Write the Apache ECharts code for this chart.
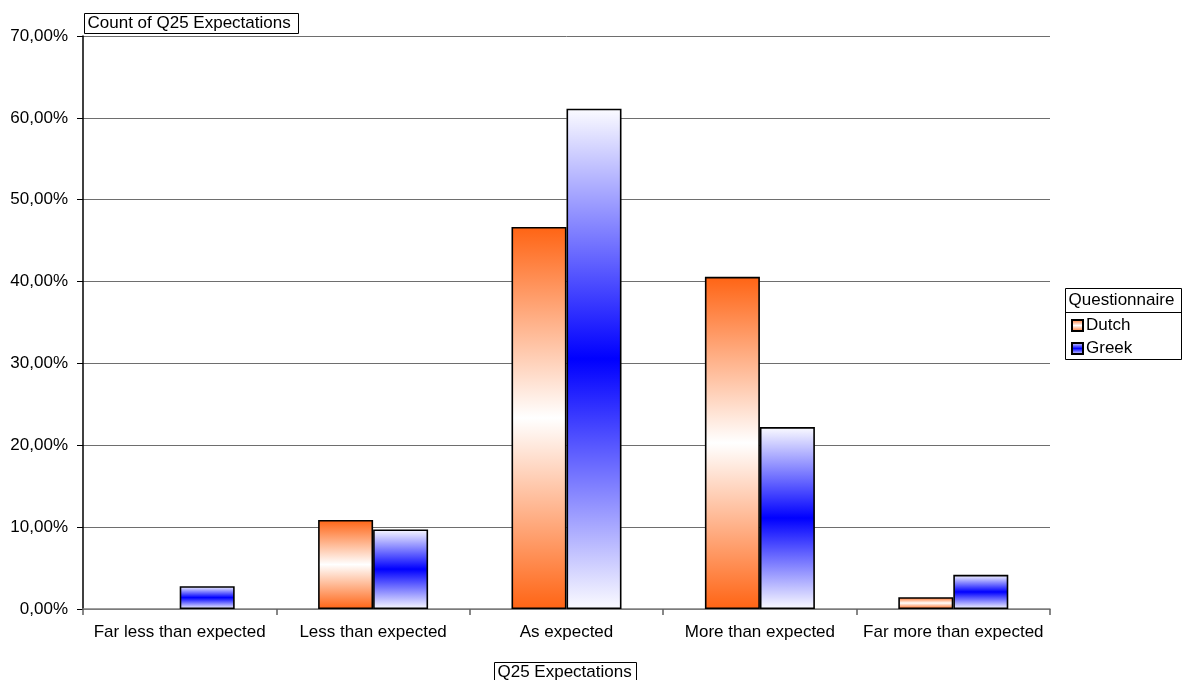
<!DOCTYPE html>
<html>
<head>
<meta charset="utf-8">
<script src="https://cdn.jsdelivr.net/npm/echarts@6/dist/echarts.min.js"></script>
<style>
  html, body { margin: 0; padding: 0; background: #ffffff; }
  #chart { width: 1186px; height: 680px; }
</style>
</head>
<body>
<div id="chart"></div>
<script>
// Share of answers per expectation level, by questionnaire (percent)
const categories = ['Far less than expected', 'Less than expected', 'As expected', 'More than expected', 'Far more than expected'];
const dutch = [0, 10.87, 46.67, 40.58, 1.45];
const greek = [2.78, 9.72, 61.11, 22.22, 4.17];
const yTicks = [0, 10, 20, 30, 40, 50, 60, 70];

const FONT = '"Liberation Sans", Arial, sans-serif';
const FS = 17;
const pct = v => v.toFixed(2).replace('.', ',') + '%';

const dutchFill = new echarts.graphic.LinearGradient(0, 0, 0, 1, [
  { offset: 0, color: '#ff6414' },
  { offset: 0.5, color: '#ffffff' },
  { offset: 1, color: '#ff6414' }
]);
const greekFill = new echarts.graphic.LinearGradient(0, 0, 0, 1, [
  { offset: 0, color: '#fbfbff' },
  { offset: 0.5, color: '#0000ff' },
  { offset: 1, color: '#fbfbff' }
]);

// a zero share gets no visible bar outline
const barData = arr => arr.map(v => v === 0 ? { value: v, itemStyle: { borderWidth: 0, opacity: 0 } } : v);

const chart = echarts.init(document.getElementById('chart'), null, { renderer: 'canvas' });

chart.setOption({
  backgroundColor: '#ffffff',
  animation: false,
  textStyle: { fontFamily: FONT },
  grid: { left: 83, right: 136, top: 36, bottom: 71, containLabel: false },
  xAxis: {
    type: 'category',
    data: categories,
    axisLine: { show: true, lineStyle: { color: '#808080', width: 1.5 } },
    axisTick: { show: true, alignWithLabel: false, length: 6, lineStyle: { color: '#606060', width: 1.5 } },
    axisLabel: { color: '#000000', fontSize: FS, fontFamily: FONT, margin: 15, interval: 0 }
  },
  yAxis: {
    type: 'value',
    min: yTicks[0],
    max: yTicks[yTicks.length - 1],
    interval: 10,
    axisLine: { show: true, lineStyle: { color: '#000000', width: 1.5 } },
    axisTick: { show: true, length: 6, inside: false, lineStyle: { color: '#000000', width: 1 } },
    splitLine: { show: true, lineStyle: { color: '#6e6e6e', width: 1 } },
    axisLabel: { color: '#000000', fontSize: FS, fontFamily: FONT, margin: 15, formatter: pct }
  },
  legend: {
    orient: 'vertical',
    left: 1066,
    top: 312,
    itemWidth: 11,
    itemHeight: 11,
    itemGap: 6,
    icon: 'rect',
    textStyle: { color: '#000000', fontSize: FS, fontFamily: FONT, padding: [0, 0, 0, -2] },
    data: ['Dutch', 'Greek'],
    selectedMode: false
  },
  series: [
    {
      name: 'Dutch',
      type: 'bar',
      data: barData(dutch),
      barWidth: 55,
      barGap: '0%',
      itemStyle: { color: dutchFill, borderColor: '#000000', borderWidth: 1.6 }
    },
    {
      name: 'Greek',
      type: 'bar',
      data: barData(greek),
      barWidth: 55,
      barGap: '0%',
      itemStyle: { color: greekFill, borderColor: '#000000', borderWidth: 1.6 }
    }
  ],
  graphic: [
    // chart title box
    {
      type: 'group', left: 84, top: 13,
      children: [
        { type: 'rect', shape: { x: 0, y: 0, width: 214, height: 20 }, style: { fill: '#ffffff', stroke: '#000000', lineWidth: 1 } },
        { type: 'text', x: 3, y: 10, style: { text: 'Count of Q25 Expectations', fill: '#000000', font: FS + 'px ' + FONT, verticalAlign: 'middle' } }
      ]
    },
    // legend frame with header
    {
      type: 'group', left: 1063, top: 286,
      children: [
        { type: 'rect', shape: { x: 0, y: 0, width: 116, height: 71 }, style: { fill: 'none', stroke: '#000000', lineWidth: 1 } },
        { type: 'line', shape: { x1: 0, y1: 24, x2: 116, y2: 24 }, style: { stroke: '#000000', lineWidth: 1 } },
        { type: 'text', x: 3, y: 12, style: { text: 'Questionnaire', fill: '#000000', font: FS + 'px ' + FONT, verticalAlign: 'middle' } }
      ]
    },
    // axis title box
    {
      type: 'group', left: 494, top: 662,
      children: [
        { type: 'rect', shape: { x: 0, y: 0, width: 142, height: 20 }, style: { fill: '#ffffff', stroke: '#000000', lineWidth: 1 } },
        { type: 'text', x: 3, y: 10, style: { text: 'Q25 Expectations', fill: '#000000', font: FS + 'px ' + FONT, verticalAlign: 'middle' } }
      ]
    }
  ]
});
</script>
</body>
</html>
